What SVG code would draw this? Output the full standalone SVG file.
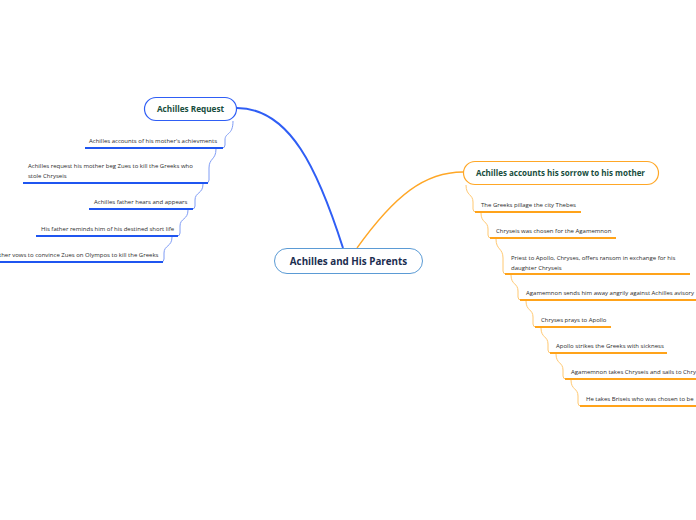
<svg xmlns="http://www.w3.org/2000/svg" width="696" height="520" viewBox="0 0 696 520">
<style>
.t{font-family:"Open Sans","Noto Sans","Liberation Sans",sans-serif;font-size:6px;fill:#2b2b2b}
.nt{font-family:"Open Sans","Noto Sans","Liberation Sans",sans-serif;font-weight:bold;fill:#174d3c}
.bl{stroke:#1f55f0;stroke-width:2;fill:none}
.or{stroke:#ffa31a;stroke-width:2;fill:none}
.bw{stroke:#7f9cf5;stroke-width:1;fill:none}
.ow{stroke:#ffc870;stroke-width:1;fill:none}
</style>
<rect width="696" height="520" fill="#fff"/>
<g id="connectors">
<path d="M343,248 C318,170 290,108 237,108" stroke="#2f5ef5" stroke-width="2" fill="none"/>
<path d="M357,248 C395,195 425,172 463,172" stroke="#ffa726" stroke-width="1.3" fill="none"/>
<path class="bw" d="M233,121 C233,136 225,132 225,140 L225,145 Q225,148 222,148"/>
<path class="bw" d="M216,149 C216,160 209,158 209,168 L209,180 Q209,183 206,183"/>
<path class="bw" d="M203,184 C203,194 195,192 195,200 L195,206 Q195,209 192,209"/>
<path class="bw" d="M188,210 C188,220 180,218 180,226 L180,233 Q180,236 177,236"/>
<path class="bw" d="M172,237 C172,247 164,245 164,253 L164,259 Q164,262 161,262"/>
<path class="ow" d="M466,185 C466,196 473,194 473,202 L473,209 Q473,212 476,212"/>
<path class="ow" d="M481,213 C481,223 488,221 488,229 L488,235 Q488,238 491,238"/>
<path class="ow" d="M496,239 C496,250 503,248 503,258 L503,271 Q503,274 506,274"/>
<path class="ow" d="M511,275 C511,285 518,283 518,291 L518,297 Q518,300 521,300"/>
<path class="ow" d="M526,301 C526,311 533,309 533,317 L533,324 Q533,327 536,327"/>
<path class="ow" d="M541,328 C541,338 548,336 548,344 L548,350 Q548,353 551,353"/>
<path class="ow" d="M556,354 C556,364 563,362 563,370 L563,376 Q563,379 566,379"/>
<path class="ow" d="M571,380 C571,390 578,388 578,396 L578,403 Q578,406 581,406"/>
</g>
<g id="central">
<rect x="274.5" y="248.5" width="148" height="25" rx="12.5" fill="#fff" stroke="#5b9bd5" stroke-width="1"/>
<text x="348.5" y="264.5" text-anchor="middle" font-family="Open Sans,Noto Sans,Liberation Sans,sans-serif" font-weight="bold" font-size="9.8" fill="#1b2d4f">Achilles and His Parents</text>
</g>
<g id="achilles-request">
<rect x="144.5" y="97.5" width="92" height="23" rx="11.5" fill="#fff" stroke="#2f5ef5" stroke-width="1.2"/>
<text class="nt" x="190.5" y="111.5" text-anchor="middle" font-size="8.2">Achilles Request</text>
</g>
<g id="sorrow">
<rect x="463.5" y="161.5" width="195" height="23" rx="11.5" fill="#fff" stroke="#ffa726" stroke-width="1.2"/>
<text class="nt" x="560.5" y="175.5" text-anchor="middle" font-size="8">Achilles accounts his sorrow to his mother</text>
</g>
<g id="l1"><text class="t" x="89" y="143">Achilles accounts of his mother's achievments</text><line class="bl" x1="85" y1="148" x2="223" y2="148"/></g>
<g id="l2"><text class="t" x="28" y="168">Achilles request his mother beg Zues to kill the Greeks who</text><text class="t" x="28" y="178">stole Chryseis</text><line class="bl" x1="23" y1="183" x2="208" y2="183"/></g>
<g id="l3"><text class="t" x="94" y="204">Achilles father hears and appears</text><line class="bl" x1="89" y1="209" x2="193" y2="209"/></g>
<g id="l4"><text class="t" x="41" y="230.5">His father reminds him of his destined short life</text><line class="bl" x1="36" y1="236" x2="178" y2="236"/></g>
<g id="l5"><text class="t" x="-1" y="257">ther vows to convince Zues on Olympos to kill the Greeks</text><line class="bl" x1="0" y1="262" x2="163" y2="262"/></g>
<g id="r1"><text class="t" x="481" y="207">The Greeks pillage the city Thebes</text><line class="or" x1="475" y1="212" x2="581" y2="212"/></g>
<g id="r2"><text class="t" x="496" y="233">Chryseis was chosen for the Agamemnon</text><line class="or" x1="490" y1="238" x2="616" y2="238"/></g>
<g id="r3"><text class="t" x="511" y="259.5">Priest to Apollo, Chryses, offers ransom in exchange for his</text><text class="t" x="511" y="269.5">daughter Chryseis</text><line class="or" x1="505" y1="274" x2="690" y2="274"/></g>
<g id="r4"><text class="t" x="526" y="295">Agamemnon sends him away angrily against Achilles avisory</text><line class="or" x1="520" y1="300" x2="696" y2="300"/></g>
<g id="r5"><text class="t" x="541" y="321.5">Chryses prays to Apollo</text><line class="or" x1="535" y1="327" x2="611" y2="327"/></g>
<g id="r6"><text class="t" x="556" y="348">Apollo strikes the Greeks with sickness</text><line class="or" x1="550" y1="353" x2="667" y2="353"/></g>
<g id="r7"><text class="t" x="571" y="373.5">Agamemnon takes Chryseis and sails to Chry</text><line class="or" x1="565" y1="379" x2="696" y2="379"/></g>
<g id="r8"><text class="t" x="586" y="400.5">He takes Briseis who was chosen to be</text><line class="or" x1="580" y1="406" x2="696" y2="406"/></g>
</svg>
